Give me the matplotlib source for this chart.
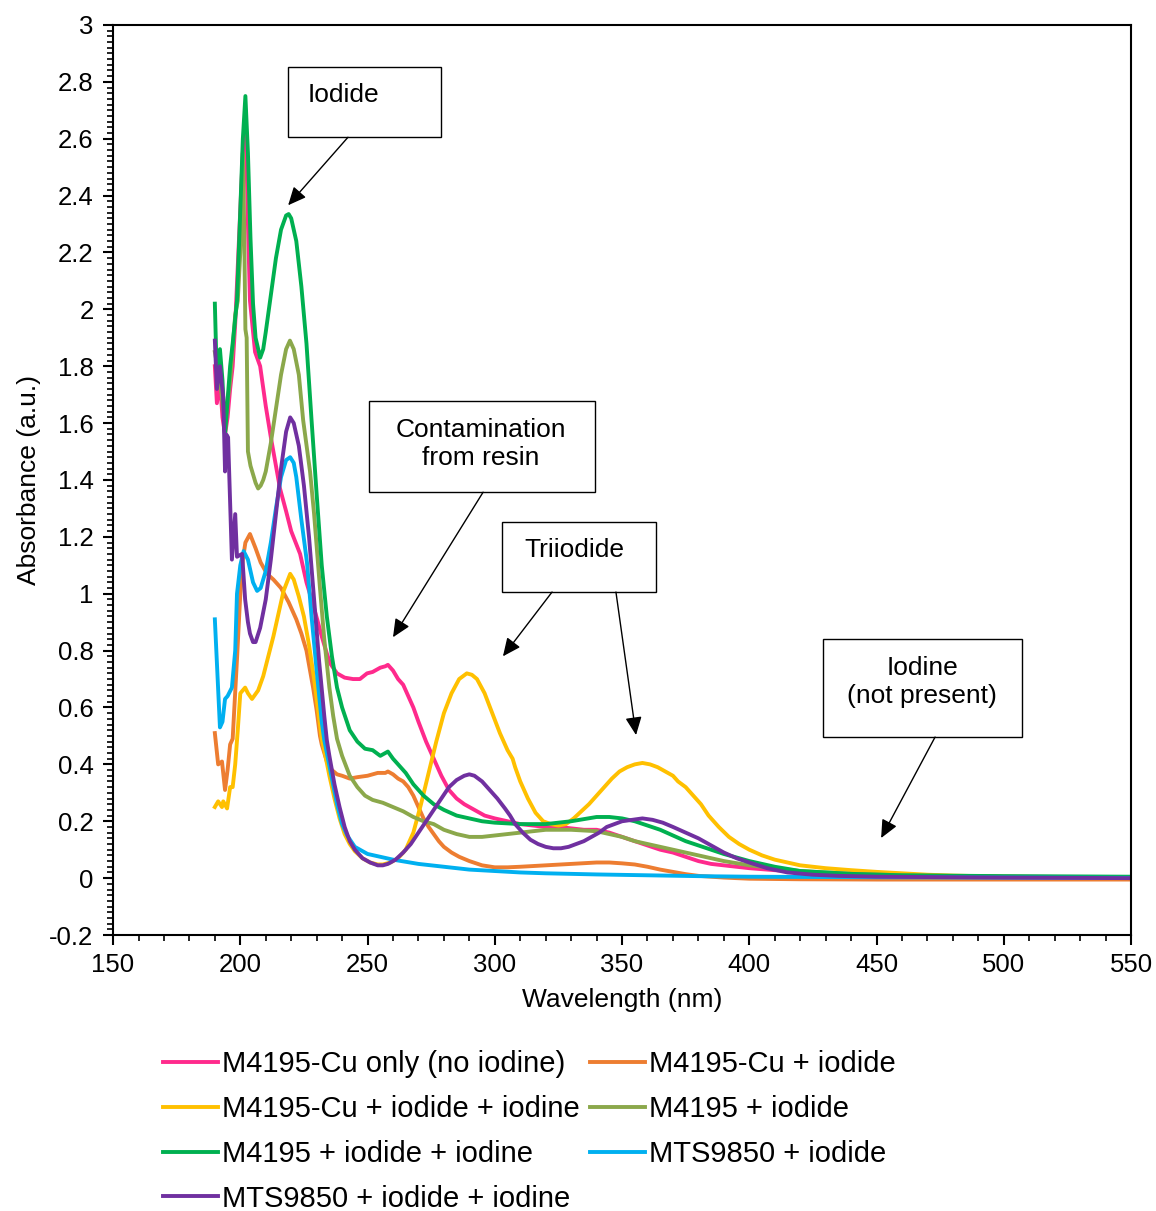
import matplotlib
matplotlib.use("Agg")
import matplotlib.pyplot as plt
from matplotlib.patches import Rectangle
from matplotlib.ticker import MultipleLocator, FuncFormatter

plt.rcParams['font.family'] = ['Liberation Sans', 'DejaVu Sans']
plt.rcParams['axes.unicode_minus'] = False

# UV-vis spectra, wavelength (nm) vs absorbance (a.u.)
cu_only_x = [190, 190.8, 192, 193, 194, 195, 196, 197, 198, 199, 200, 201, 202, 203, 203.8, 205.8, 207.8,
             210, 212, 214, 215.6, 218, 220, 223.5, 226, 228, 230.2, 232, 234, 235.3, 238, 241, 244.3, 247,
             249.8, 252, 255, 257, 258, 260, 262, 264, 266, 268, 270, 273, 276, 279, 282, 285, 288, 292, 296,
             300, 305, 310, 315, 320, 325, 330, 335, 340, 345, 350, 355, 360, 365, 370, 375, 380, 385, 390,
             400, 410, 420, 430, 440, 460, 480, 500, 525, 550]
cu_only_y = [1.80, 1.67, 1.75, 1.62, 1.56, 1.62, 1.72, 1.80, 1.95, 2.15, 2.35, 2.55, 2.70, 2.30, 2.03, 1.85, 1.80,
             1.66, 1.55, 1.45, 1.37, 1.29, 1.22, 1.14, 1.04, 0.98, 0.91, 0.85, 0.79, 0.755, 0.72, 0.705, 0.70, 0.70,
             0.72, 0.725, 0.74, 0.745, 0.75, 0.73, 0.70, 0.68, 0.64, 0.60, 0.55, 0.48, 0.42, 0.36, 0.31, 0.28, 0.26,
             0.24, 0.22, 0.21, 0.20, 0.19, 0.185, 0.18, 0.18, 0.175, 0.17, 0.17, 0.16, 0.145, 0.13, 0.115, 0.10,
             0.09, 0.075, 0.06, 0.05, 0.045, 0.035, 0.028, 0.022, 0.018, 0.015, 0.01, 0.007, 0.005, 0.004, 0.003]

cu_iodide_x = [190, 191.3, 192.8, 194, 195, 196, 197, 198.7, 200, 201, 202, 203.8, 206, 208, 210.5, 213, 216,
               219, 222, 224, 226, 228.6, 230, 231.3, 232, 234, 236, 238, 240, 243, 246, 250, 254, 257, 258,
               260, 262, 264, 266, 268, 270, 272, 274, 276, 278, 280, 283, 286, 290, 295, 300, 305, 310, 320,
               330, 340, 345, 350, 355, 360, 365, 370, 375, 380, 390, 400, 420, 450, 500, 550]
cu_iodide_y = [0.51, 0.40, 0.41, 0.31, 0.38, 0.47, 0.49, 0.77, 1.00, 1.12, 1.18, 1.21, 1.16, 1.11, 1.07, 1.05,
               1.02, 0.97, 0.91, 0.86, 0.80, 0.67, 0.59, 0.50, 0.47, 0.41, 0.38, 0.365, 0.36, 0.35, 0.355, 0.36,
               0.37, 0.37, 0.375, 0.365, 0.35, 0.34, 0.32, 0.29, 0.25, 0.21, 0.18, 0.155, 0.13, 0.11, 0.09, 0.075,
               0.06, 0.045, 0.038, 0.038, 0.04, 0.045, 0.05, 0.055, 0.055, 0.052, 0.048, 0.04, 0.03, 0.022, 0.014,
               0.008, 0.002, -0.002, -0.004, -0.005, -0.005, -0.005]

cu_iodine_x = [190, 191.3, 192.8, 193.3, 194.8, 196, 197, 198, 199, 200, 201.9, 203, 204.6, 207, 209, 211, 213,
               215, 217, 219.6, 221, 223, 225, 227, 229, 231, 232, 233, 235, 237, 239, 241, 243, 245, 248, 251,
               254, 256, 259, 262, 265, 268, 271, 274, 277, 280, 283, 286, 289, 291, 293, 296, 299, 302, 305, 307,
               308, 310, 313, 316, 319, 322, 325, 328, 331, 334, 337, 340, 343, 346, 349, 352, 355, 358, 361, 364,
               367, 370, 372, 375, 378, 381, 384, 388, 392, 396, 400, 405, 410, 420, 430, 440, 450, 460, 470, 480,
               500, 525, 550]
cu_iodine_y = [0.25, 0.27, 0.25, 0.27, 0.245, 0.32, 0.32, 0.40, 0.52, 0.65, 0.67, 0.65, 0.63, 0.66, 0.71, 0.78,
               0.85, 0.93, 1.01, 1.07, 1.05, 0.99, 0.92, 0.82, 0.70, 0.56, 0.49, 0.45, 0.36, 0.28, 0.21, 0.155,
               0.12, 0.095, 0.07, 0.055, 0.048, 0.048, 0.055, 0.07, 0.10, 0.16, 0.26, 0.37, 0.48, 0.58, 0.65,
               0.70, 0.72, 0.715, 0.70, 0.65, 0.58, 0.51, 0.45, 0.42, 0.39, 0.34, 0.28, 0.23, 0.20, 0.19, 0.185,
               0.19, 0.21, 0.235, 0.26, 0.29, 0.32, 0.35, 0.375, 0.39, 0.40, 0.405, 0.40, 0.39, 0.375, 0.36, 0.34,
               0.32, 0.29, 0.26, 0.22, 0.18, 0.145, 0.12, 0.10, 0.08, 0.065, 0.045, 0.035, 0.028, 0.022, 0.017,
               0.012, 0.009, 0.005, 0.003, 0.002]

m4195_iodide_x = [190, 192, 194, 196, 198, 199, 200, 201, 201.5, 202, 202.5, 203, 204, 206, 207, 208, 209, 210,
                  212, 214, 216, 218, 219.5, 221, 223, 224.7, 227.4, 229, 231.3, 233, 235, 236.5, 238, 240, 243,
                  246, 249, 252, 256, 260, 264, 268, 272, 276, 280, 285, 290, 295, 300, 310, 320, 330, 340, 345,
                  350, 355, 360, 370, 380, 390, 400, 410, 420, 440, 460, 500, 550]
m4195_iodide_y = [1.85, 1.75, 1.60, 1.75, 1.98, 2.03, 2.20, 2.55, 2.30, 1.93, 1.90, 1.50, 1.45, 1.39, 1.37, 1.38,
                  1.40, 1.43, 1.53, 1.65, 1.77, 1.86, 1.89, 1.86, 1.77, 1.61, 1.43, 1.28, 1.02, 0.84, 0.67, 0.57,
                  0.49, 0.43, 0.36, 0.32, 0.29, 0.275, 0.265, 0.25, 0.235, 0.215, 0.20, 0.19, 0.17, 0.155, 0.145,
                  0.145, 0.15, 0.16, 0.17, 0.17, 0.165, 0.155, 0.145, 0.13, 0.12, 0.10, 0.08, 0.06, 0.045, 0.035,
                  0.025, 0.015, 0.01, 0.005, 0.004]

m4195_iodine_x = [190, 190.5, 191, 192, 193, 194, 196, 197, 198.7, 200, 201, 202, 203, 204, 205, 206, 207.8,
                  209, 210, 212, 214, 216, 218, 219, 220, 222, 224, 226, 228, 230, 232, 234, 236, 238, 240, 243,
                  246, 249, 252, 255, 257, 258, 260, 262, 265, 268, 272, 276, 280, 285, 290, 295, 300, 310, 320,
                  330, 340, 345, 350, 355, 360, 365, 370, 375, 380, 385, 390, 400, 410, 420, 440, 460, 500, 550]
m4195_iodine_y = [2.02, 1.85, 1.78, 1.86, 1.75, 1.56, 1.80, 1.88, 2.03, 2.35, 2.60, 2.75, 2.55, 2.25, 2.02, 1.90,
                  1.83, 1.86, 1.92, 2.05, 2.18, 2.28, 2.33, 2.335, 2.32, 2.24, 2.08, 1.88, 1.61, 1.35, 1.10, 0.92,
                  0.78, 0.67, 0.60, 0.52, 0.48, 0.455, 0.45, 0.43, 0.44, 0.445, 0.42, 0.40, 0.37, 0.33, 0.29, 0.26,
                  0.24, 0.22, 0.21, 0.20, 0.195, 0.19, 0.19, 0.20, 0.215, 0.215, 0.21, 0.20, 0.185, 0.17, 0.15,
                  0.13, 0.115, 0.10, 0.085, 0.06, 0.04, 0.025, 0.015, 0.01, 0.007, 0.005]

mts_iodide_x = [190, 191, 192, 193, 194, 195, 196.7, 198, 198.7, 200, 201.3, 203, 204, 205, 206.6, 208, 210,
                212, 214, 216, 218, 219.6, 221, 222, 224, 226.2, 228, 230, 232, 233, 234, 236, 238, 240, 242,
                245, 250, 255, 260, 270, 280, 290, 300, 310, 320, 340, 360, 380, 400, 450, 500, 550]
mts_iodide_y = [0.91, 0.72, 0.53, 0.55, 0.63, 0.64, 0.67, 0.80, 1.00, 1.10, 1.15, 1.12, 1.08, 1.04, 1.01, 1.02,
                1.08, 1.18, 1.30, 1.41, 1.47, 1.48, 1.46, 1.41, 1.26, 1.11, 0.92, 0.73, 0.55, 0.485, 0.44, 0.35,
                0.26, 0.19, 0.15, 0.11, 0.085, 0.075, 0.065, 0.05, 0.04, 0.03, 0.025, 0.02, 0.017, 0.013, 0.01,
                0.007, 0.005, 0.003, 0.002, 0.001]

mts_iodine_x = [190, 190.8, 192, 193.3, 194, 194.5, 195.2, 196.7, 198, 198.7, 200.7, 201.9, 203, 203.8, 205,
                206, 207.8, 210, 212, 214, 216, 218, 219.6, 221, 223, 225, 227, 229, 231, 233, 234, 235, 237,
                239, 241, 243, 245, 248, 251, 254, 256, 258, 261, 264, 267, 270, 273, 276, 279, 282, 285, 288,
                290, 292, 295, 298, 301, 304, 306, 308, 311, 314, 317, 320, 323, 326, 329, 332, 335, 338, 341,
                344, 347, 350, 354, 358, 362, 366, 370, 375, 380, 385, 390, 395, 400, 407, 415, 425, 435, 450,
                500, 550]
mts_iodine_y = [1.89, 1.72, 1.80, 1.69, 1.43, 1.56, 1.55, 1.12, 1.28, 1.13, 1.14, 0.98, 0.90, 0.86, 0.83, 0.83,
                0.88, 0.98, 1.12, 1.28, 1.44, 1.57, 1.62, 1.60, 1.52, 1.38, 1.20, 0.98, 0.76, 0.57, 0.485, 0.43,
                0.33, 0.25, 0.18, 0.13, 0.10, 0.07, 0.055, 0.045, 0.045, 0.05, 0.065, 0.09, 0.12, 0.16, 0.20,
                0.24, 0.28, 0.32, 0.345, 0.36, 0.365, 0.36, 0.34, 0.31, 0.28, 0.245, 0.22, 0.19, 0.16, 0.135,
                0.12, 0.11, 0.105, 0.105, 0.11, 0.12, 0.13, 0.145, 0.16, 0.18, 0.19, 0.20, 0.205, 0.21, 0.205,
                0.195, 0.18, 0.16, 0.14, 0.115, 0.09, 0.07, 0.055, 0.035, 0.02, 0.012, 0.008, 0.005, 0.002, 0.0]

series = [
    ("M4195-Cu only (no iodine)", cu_only_x, cu_only_y, "#FF2A8C"),
    ("M4195-Cu + iodide", cu_iodide_x, cu_iodide_y, "#ED7D31"),
    ("M4195-Cu + iodide + iodine", cu_iodine_x, cu_iodine_y, "#FFC000"),
    ("M4195 + iodide", m4195_iodide_x, m4195_iodide_y, "#8BA84B"),
    ("M4195 + iodide + iodine", m4195_iodine_x, m4195_iodine_y, "#00B050"),
    ("MTS9850 + iodide", mts_iodide_x, mts_iodide_y, "#00B0F0"),
    ("MTS9850 + iodide + iodine", mts_iodine_x, mts_iodine_y, "#7030A0"),
]

fig = plt.figure(figsize=(11.56, 12.11), dpi=100)
ax = fig.add_axes([0.0978, 0.2279, 0.8806, 0.7515])

handles = {}
for label, x, y, c in series:
    line, = ax.plot(x, y, color=c, lw=2.8, label=label, solid_joinstyle='round')
    handles[label] = line

ax.set_xlim(150, 550)
ax.set_ylim(-0.2, 3)
ax.xaxis.set_major_locator(MultipleLocator(50))
ax.xaxis.set_minor_locator(MultipleLocator(10))
ax.yaxis.set_major_locator(MultipleLocator(0.2))
ax.yaxis.set_minor_locator(MultipleLocator(0.02))
ax.yaxis.set_major_formatter(FuncFormatter(lambda v, p: f"{v:.1f}".rstrip('0').rstrip('.') if abs(v) > 1e-9 else "0"))
ax.tick_params(which='major', direction='out', length=7, width=1.5, labelsize=18.5)
ax.tick_params(axis='y', which='major', pad=7)
ax.tick_params(axis='x', which='major', pad=6)
ax.tick_params(which='minor', direction='out', length=4, width=1.2)
for s in ax.spines.values():
    s.set_linewidth(1.5)

ax.set_xlabel("Wavelength (nm)", fontsize=19, labelpad=8)
ax.set_ylabel("Absorbance (a.u.)", fontsize=19, labelpad=6)

# annotation boxes and arrows
boxes = [
    ((218.8, 2.605), 60.1, 0.247),
    ((250.6, 1.357), 88.8, 0.320),
    ((302.9, 1.006), 60.5, 0.246),
    ((429.0, 0.496), 78.2, 0.344),
]
for (bx, by), w, h in boxes:
    ax.add_patch(Rectangle((bx, by), w, h, fill=True, facecolor='white', edgecolor='black', lw=1.0, zorder=5))

ax.text(226.6, 2.753, "Iodide", fontsize=19, va='center', ha='left', zorder=6)
ax.text(294.6, 1.527, "Contamination\nfrom resin", fontsize=19, va='center', ha='center',
        linespacing=1.2, zorder=6)
ax.text(311.5, 1.153, "Triiodide", fontsize=19, va='center', ha='left', zorder=6)
ax.text(467.9, 0.689, "Iodine\n(not present)", fontsize=19, va='center', ha='center',
        linespacing=1.2, zorder=6)

arrows = [
    ((242.3, 2.605), (218.8, 2.366)),
    ((295.4, 1.357), (260.0, 0.847)),
    ((322.5, 1.006), (303.2, 0.780)),
    ((347.6, 1.006), (355.5, 0.503)),
    ((473.0, 0.496), (451.8, 0.141)),
]
for start, end in arrows:
    ax.annotate("", xy=end, xytext=start,
                arrowprops=dict(arrowstyle='-|>,head_length=1.1,head_width=0.5', color='black',
                                lw=1.0, shrinkA=0, shrinkB=0), zorder=6)

order = ["M4195-Cu only (no iodine)", "M4195-Cu + iodide + iodine", "M4195 + iodide + iodine",
         "MTS9850 + iodide + iodine", "M4195-Cu + iodide", "M4195 + iodide", "MTS9850 + iodide"]
fig.legend([handles[k] for k in order], order, loc='upper left', bbox_to_anchor=(0.141, 0.1330),
           ncol=2, frameon=False, fontsize=21, handlelength=1.88, handletextpad=0.14,
           columnspacing=0.37, labelspacing=0.58, borderaxespad=0, borderpad=0)

fig.savefig("out.png", dpi=100)
